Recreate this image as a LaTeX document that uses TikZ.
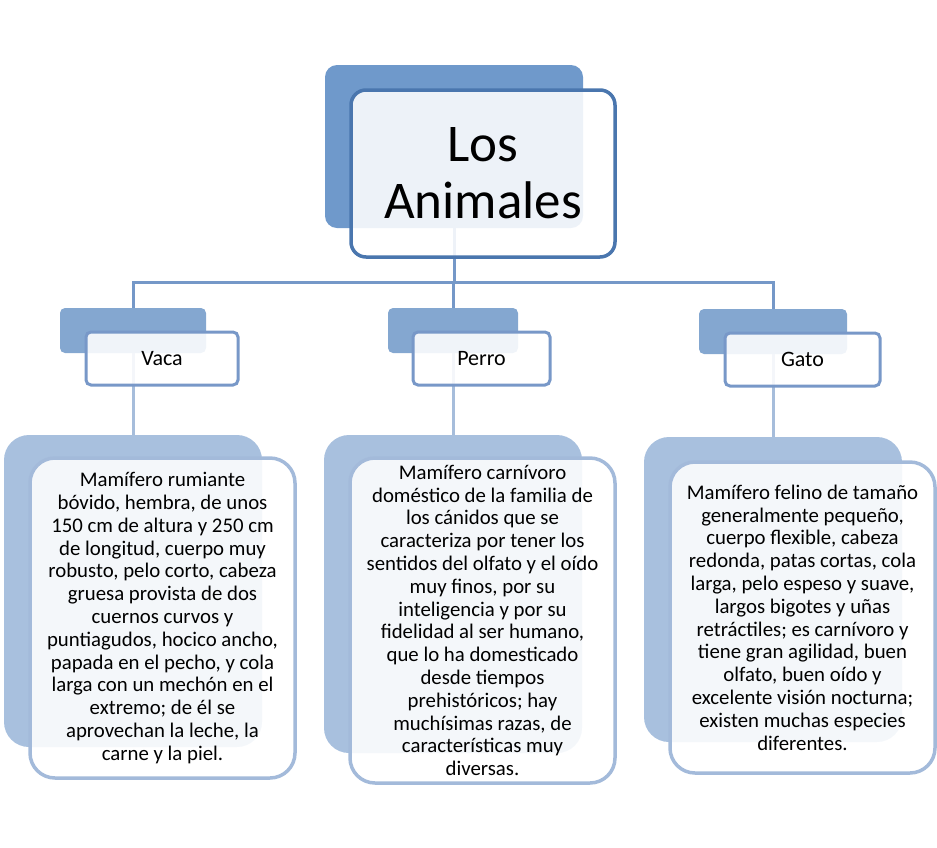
\documentclass[tikz,border=0pt]{standalone}
\usepackage{fontspec}
\setmainfont{Carlito}
\definecolor{fondoA}{HTML}{6F99CB}
\definecolor{bordeA}{HTML}{4A76AE}
\definecolor{ramaA}{HTML}{7598C8}
\definecolor{fondoB}{HTML}{84A7D0}
\definecolor{bordeB}{HTML}{7898C8}
\definecolor{ramaB}{HTML}{A6BDDB}
\definecolor{fondoC}{HTML}{A8C0DE}
\definecolor{bordeC}{HTML}{A3BADA}

\begin{document}
\begin{tikzpicture}[x=1pt, y=-1pt,
    frente/.style={draw, fill=white, fill opacity=0.88, text opacity=1, align=center, inner sep=0pt},
    tapaA/.style={fill=fondoA, rounded corners=12pt},
    tapaB/.style={fill=fondoB, rounded corners=5pt, minimum height=45pt},
    tapaC/.style={fill=fondoC, rounded corners=25pt, minimum width=258pt},
    titulo/.style={frente, draw=bordeA, line width=3.5pt, rounded corners=15pt,
      minimum width=264pt, minimum height=167pt, font=\fontsize{53}{57}\selectfont},
    animal/.style={frente, draw=bordeB, line width=3pt, rounded corners=5pt,
      minimum height=53pt, font=\fontsize{22}{24}\selectfont},
    ficha/.style={frente, draw=bordeC, line width=3.5pt, rounded corners=25pt,
      minimum width=265pt, font=\fontsize{20.8}{22.8}\selectfont},
    rama/.style={draw=ramaA, line width=3pt},
    hilo/.style={draw=ramaB, line width=3pt}]
  \useasboundingbox (0,0) rectangle (937,847);
  % sombras de fondo
  \node[tapaA, minimum width=258pt, minimum height=163pt] (raiz-f) at (454,146.5) {};
  \node[tapaB, minimum width=146pt] (vaca-f)  at (133,330.5) {};
  \node[tapaB, minimum width=130pt] (perro-f) at (453,330.5) {};
  \node[tapaB, minimum width=148pt] (gato-f)  at (773,331.5) {};
  \node[tapaC, minimum height=312pt] (vaca-d)  at (133,591) {};
  \node[tapaC, minimum height=318pt] (perro-d) at (453,594) {};
  \node[tapaC, minimum height=305pt] (gato-d)  at (773,589.5) {};
  % conectores
  \coordinate (bus) at (454,282);
  \draw[rama] (raiz-f.south) -- (bus);
  \draw[rama] (bus) -| (vaca-f.north);
  \draw[rama] (bus) -| (perro-f.north);
  \draw[rama] (bus) -| (gato-f.north);
  \draw[hilo] (vaca-f.south) -- (vaca-d.north);
  \draw[hilo] (perro-f.south) -- (perro-d.north);
  \draw[hilo] (gato-f.south) -- (gato-d.north);
  % cajas
  \node[titulo] (raiz) at (483,173.5) {Los\\Animales};
  \node[animal, minimum width=152pt] (vaca)  at (162,358.5) {Vaca};
  \node[animal, minimum width=137pt] (perro) at (481.5,358.5) {Perro};
  \node[animal, minimum width=155pt] (gato)  at (802.5,359.5) {Gato};
  \node[ficha, minimum height=320pt] (vaca-t) at (162.5,618) {Mamífero rumiante\\
    bóvido, hembra, de unos\\150 cm de altura y 250 cm\\de longitud, cuerpo muy\\
    robusto, pelo corto, cabeza\\gruesa provista de dos\\cuernos curvos y\\
    puntiagudos, hocico ancho,\\papada en el pecho, y cola\\larga con un mechón en el\\
    extremo; de él se\\aprovechan la leche, la\\carne y la piel.};
  \node[ficha, minimum height=325pt] (perro-t) at (482.5,620.5) {Mamífero carnívoro\\
    doméstico de la familia de\\los cánidos que se\\caracteriza por tener los\\
    sentidos del olfato y el oído\\muy finos, por su\\inteligencia y por su\\
    fidelidad al ser humano,\\que lo ha domesticado\\desde tiempos\\
    prehistóricos; hay\\muchísimas razas, de\\características muy\\diversas.};
  \node[ficha, minimum height=311pt] (gato-t) at (802.5,617.5) {Mamífero felino de tamaño\\
    generalmente pequeño,\\cuerpo flexible, cabeza\\redonda, patas cortas, cola\\
    larga, pelo espeso y suave,\\largos bigotes y uñas\\retráctiles; es carnívoro y\\
    tiene gran agilidad, buen\\olfato, buen oído y\\excelente visión nocturna;\\
    existen muchas especies\\diferentes.};
\end{tikzpicture}
\end{document}
